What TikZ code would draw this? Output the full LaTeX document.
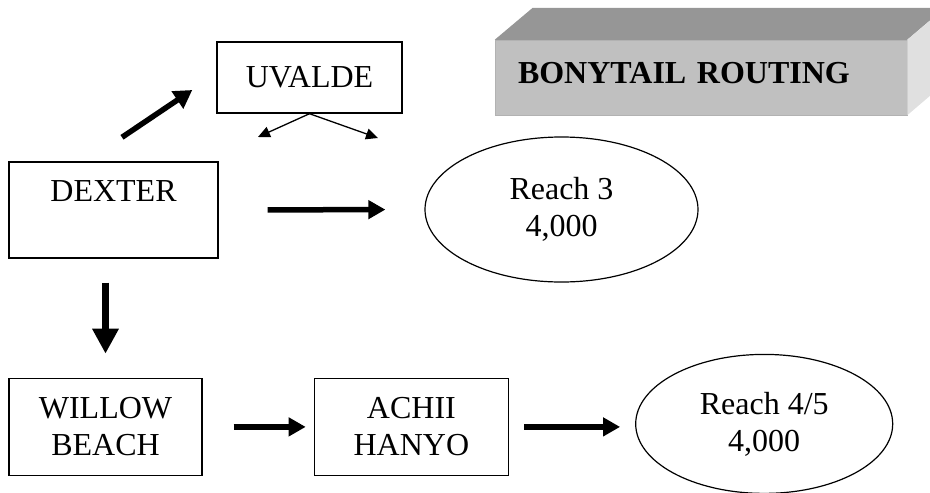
\documentclass[tikz,border=0pt]{standalone}
\usepackage{fontspec}
\setmainfont{Liberation Serif}
\usetikzlibrary{shapes.geometric, arrows.meta, positioning}

\definecolor{frontgray}{HTML}{C0C0C0}
\definecolor{topgray}{HTML}{969696}
\definecolor{sidegray}{HTML}{E0E0E0}

\begin{document}
\begin{tikzpicture}[x=1pt, y=-1pt,
    every node/.style={font=\fontsize{32}{37}\selectfont},
    station/.style={draw, line width=1.4pt, rectangle, inner sep=0pt, align=center},
    reach/.style={draw, line width=1.2pt, ellipse, inner sep=0pt, align=center},
    flow/.style={line width=5.5pt, -{Triangle[length=17pt,width=18pt]}},
    split/.style={line width=1.3pt, -{Triangle[length=12pt,width=11pt]}},
    banner/.style={fill=frontgray, draw=gray!60, line width=0.5pt, inner xsep=23pt,
        text width=366pt, text depth=10pt, align=left, minimum height=75pt,
        font=\fontsize{32}{37}\selectfont\bfseries}]

        \useasboundingbox (0,0) rectangle (930,493);
        \clip (0,0) rectangle (930,493);

        % dexter
        \node[station, minimum width=209pt, minimum height=96pt] (dexter) at (113.5,210) {DEXTER\\\mbox{}};

        % uvalde
        \node[station, minimum width=185pt, minimum height=71pt] (uvalde) at (309.5,77.5) {UVALDE};
        \coordinate (uvalde_left) at (258,137);
        \coordinate (uvalde_right) at (378,138);

        % reach 3
        \node[reach, minimum width=273pt, minimum height=145pt] (reach3) at (561.5,209.5) {Reach 3\\4,000};

        % willow beach, achii hanyo, reach 4/5
        \node[station, minimum width=193pt, minimum height=97pt] (willow) [below=119pt of dexter, xshift=-8pt] {WILLOW\\BEACH};
        \node[station, minimum width=194pt, minimum height=97pt] (achii) [right=111pt of willow] {ACHII\\HANYO};
        \node[reach, minimum width=257pt, minimum height=139pt] (reach45) [right=126pt of achii, yshift=3pt] {Reach 4/5\\4,000};

        % title
        \node[banner, minimum width=412pt] (title) at (701,77.5) {BONYTAIL ROUTING};
        \fill[topgray] (title.north west) -- ++(38,-32) -- ++(412,0) -- (title.north east) -- cycle;
        \fill[sidegray] (title.north east) -- ++(38,-32) -- ++(0,75) -- (title.south east) -- cycle;

        % paths
        \draw[flow, -{Triangle[length=18pt,width=20pt]}] ([xshift=8.5pt,yshift=24pt]dexter.north) -- ([xshift=-24pt,yshift=-12.5pt]uvalde.west);
        \draw[split] (uvalde.south) -- (uvalde_left);
        \draw[split] (uvalde.south) -- (uvalde_right);
        \draw[flow, shorten <=49pt, shorten >=39pt] (dexter.east) -- (reach3.west);
        \draw[flow, line width=6.5pt, -{Triangle[length=25pt,width=25pt]}, shorten <=24pt, shorten >=24pt] (willow.north |- dexter.south) -- (willow.north);
        \draw[flow, shorten <=31pt, shorten >=8pt] (willow.east) -- (achii.west);
        \draw[flow, shorten <=15pt, shorten >=15pt] (achii.east) -- (achii.east -| reach45.west);

    \end{tikzpicture}
\end{document}
